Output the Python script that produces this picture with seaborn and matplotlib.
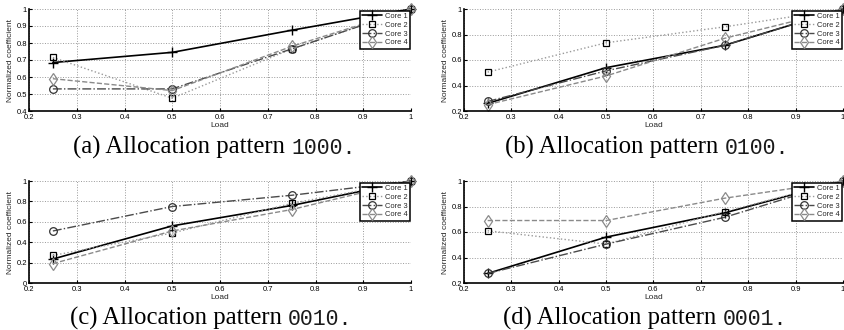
import numpy as np
import pandas as pd
import matplotlib
matplotlib.use("Agg")
import matplotlib.pyplot as plt
import seaborn as sns

load = [0.25, 0.5, 0.75, 1.0]
cores = ["Core 1", "Core 2", "Core 3", "Core 4"]

# panel (a) pattern 1000
a_core1 = [0.685, 0.745, 0.875, 1.0]
a_core2 = [0.715, 0.475, 0.765, 1.0]
a_core3 = [0.530, 0.530, 0.765, 1.0]
a_core4 = [0.590, 0.520, 0.780, 1.0]
# panel (b) pattern 0100
b_core1 = [0.260, 0.540, 0.715, 1.0]
b_core2 = [0.505, 0.735, 0.860, 1.0]
b_core3 = [0.275, 0.515, 0.715, 1.0]
b_core4 = [0.250, 0.475, 0.770, 1.0]
# panel (c) pattern 0010
c_core1 = [0.235, 0.560, 0.760, 1.0]
c_core2 = [0.270, 0.490, 0.780, 1.0]
c_core3 = [0.510, 0.750, 0.860, 1.0]
c_core4 = [0.190, 0.510, 0.720, 1.0]
# panel (d) pattern 0001
d_core1 = [0.275, 0.560, 0.750, 1.0]
d_core2 = [0.610, 0.505, 0.760, 1.0]
d_core3 = [0.275, 0.505, 0.715, 1.0]
d_core4 = [0.690, 0.690, 0.865, 1.0]

captions_lbl = ["(a) Allocation pattern ", "(b) Allocation pattern ",
                "(c) Allocation pattern ", "(d) Allocation pattern "]
captions_code = ["1000", "0100", "0010", "0001"]
ylims = [(0.4, 1.0), (0.2, 1.0), (0.0, 1.0), (0.2, 1.0)]
ysteps = [0.1, 0.2, 0.2, 0.2]

panels = [
    [a_core1, a_core2, a_core3, a_core4],
    [b_core1, b_core2, b_core3, b_core4],
    [c_core1, c_core2, c_core3, c_core4],
    [d_core1, d_core2, d_core3, d_core4],
]

sns.set_theme(style="white")
plt.rcParams['font.family'] = ['Liberation Sans', 'DejaVu Sans']

W, H = 845, 330
fig = plt.figure(figsize=(W / 100, H / 100), dpi=100)

def px_rect(x0, x1, ytop, ybot):
    return [x0 / W, 1 - ybot / H, (x1 - x0) / W, (ybot - ytop) / H]

rects = [px_rect(29, 411, 9, 111), px_rect(464, 843, 9, 111),
         px_rect(29, 411, 181, 283), px_rect(464, 843, 181, 283)]

styles = [
    dict(color="black", linestyle="-", marker="+", mfc="black", mec="black", ms=7, lw=1.2, mew=1.0),
    dict(color="#9a9a9a", linestyle=":", marker="s", mfc="none", mec="black", ms=4.5, lw=1.0, mew=0.9),
    dict(color="#4a4a4a", linestyle="-.", marker="o", mfc="none", mec="#333333", ms=5.5, lw=1.0, mew=0.9),
    dict(color="#8a8a8a", linestyle="--", marker="d", mfc="none", mec="#8a8a8a", ms=6, lw=1.0, mew=0.9),
]

def fmt(v):
    if abs(v - 1) < 1e-9:
        return "1"
    if abs(v) < 1e-9:
        return "0"
    return f"{v:.1f}"

for i, (rect, series) in enumerate(zip(rects, panels)):
    ax = fig.add_axes(rect)
    df = pd.DataFrame({"Load": np.tile(load, 4),
                       "val": np.concatenate(series),
                       "core": np.repeat(cores, 4)})
    for j, c in enumerate(cores):
        st = styles[j]
        sub = df[df.core == c]
        sns.lineplot(data=sub, x="Load", y="val", ax=ax, label=c,
                     color=st["color"], linestyle=st["linestyle"], linewidth=st["lw"],
                     marker=st["marker"], markersize=st["ms"], markerfacecolor=st["mfc"],
                     markeredgecolor=st["mec"], markeredgewidth=st["mew"], clip_on=False)
    ax.set_xlim(0.2, 1.0)
    ax.set_ylim(*ylims[i])
    xt = np.round(np.arange(0.2, 1.0001, 0.1), 2)
    yt = np.round(np.arange(ylims[i][0], 1.0001, ysteps[i]), 2)
    ax.set_xticks(xt)
    ax.set_xticklabels([fmt(v) for v in xt])
    ax.set_yticks(yt)
    ax.set_yticklabels([fmt(v) for v in yt])
    ax.tick_params(labelsize=5.5, direction="in", length=2.5, width=0.8,
                   colors="black", left=True, bottom=True)
    ax.tick_params(axis="x", pad=2.2)
    ax.tick_params(axis="y", pad=1.5)
    ax.grid(True, linestyle=":", color="#999999", linewidth=0.7)
    for s in ["top", "right"]:
        ax.spines[s].set_visible(False)
    for s in ["left", "bottom"]:
        ax.spines[s].set_color("black")
        ax.spines[s].set_linewidth(1.2)
    ax.set_xlabel("Load", fontsize=6, labelpad=0.5)
    ax.set_ylabel("Normalized coefficient", fontsize=6, labelpad=2)
    leg = ax.legend(loc="upper right", bbox_to_anchor=(0.997, 0.985), fontsize=5.4,
                    frameon=True, fancybox=False, framealpha=1.0, handlelength=2.6,
                    borderpad=0.3, labelspacing=0.2, handletextpad=0.4, borderaxespad=0.0)
    leg.get_frame().set_edgecolor("black")
    leg.get_frame().set_linewidth(1.1)

# captions
cap_pos = [(73, 154), (505, 154), (70, 325), (503, 325)]
fig.canvas.draw()
renderer = fig.canvas.get_renderer()
for (x, y), lbl, code in zip(cap_pos, captions_lbl, captions_code):
    t = fig.text(x / W, 1 - y / H, lbl, fontsize=17.8, family=["Liberation Serif", "DejaVu Serif"],
                 ha="left", va="baseline", color="black")
    bb = t.get_window_extent(renderer=renderer)
    fig.text(bb.x1 / W, 1 - y / H, code + ".", fontsize=15.5,
             family=["Liberation Mono", "DejaVu Sans Mono"], ha="left", va="baseline",
             color="#1a1a1a")

fig.savefig("out.png", dpi=100)
